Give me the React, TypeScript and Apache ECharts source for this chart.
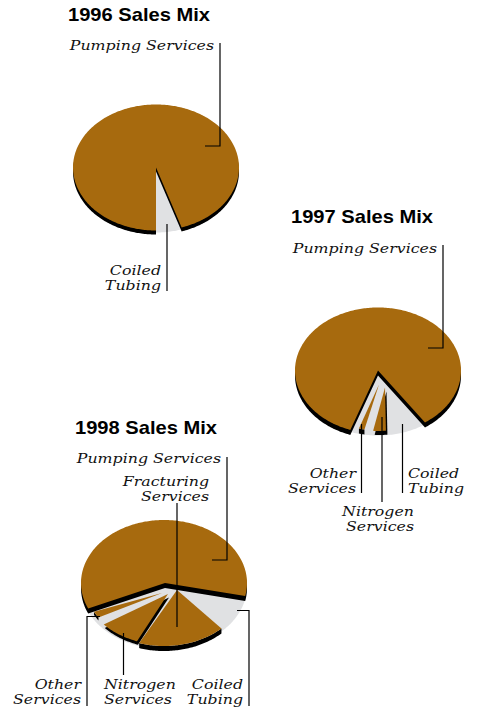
import React, { useEffect, useRef } from "react";
import * as echarts from "echarts";

const BROWN = "#a76a0e";
const GREY = "#e0e1e3";
const BLACK = "#000000";

const names1996 = ["Pumping Services", "Coiled Tubing"];
const sales1996 = [95, 5];
const names1997 = ["Pumping Services", "Coiled Tubing", "Nitrogen Services", "Other Services"];
const sales1997 = [85, 8, 3.5, 3.5];
const names1998 = ["Pumping Services", "Coiled Tubing", "Fracturing Services", "Nitrogen Services", "Other Services"];
const sales1998 = [60, 9.5, 17, 9, 4.5];

type SliceStyle = {
  kind: "main" | "notch" | "wedge";
  apex?: number[];
  inset?: number[];
  ratio?: number;
  shadow?: number[];
  rimOnly?: boolean;
};
type Pie = {
  title: string;
  titlePos: number[];
  names: string[];
  values: number[];
  center: number[];
  startAngle: number;
  slices: SliceStyle[];
  notchApex?: number[];
  notchDy: number;
};

const RX = 83;
const RY = 63;

const pies: Pie[] = [
  {
    title: "1996 Sales Mix",
    titlePos: [68, 21],
    names: names1996,
    values: sales1996,
    center: [156, 167.5],
    startAngle: 180,
    notchDy: 2,
    slices: [
      { kind: "main", shadow: [0, 4] },
      { kind: "notch" },
    ],
  },
  {
    title: "1997 Sales Mix",
    titlePos: [291, 223],
    names: names1997,
    values: sales1997,
    center: [378, 370.5],
    startAngle: 199.5,
    notchDy: 2,
    slices: [
      { kind: "main", shadow: [0, 5] },
      { kind: "notch" },
      { kind: "wedge", apex: [7, 17], inset: [0, 3.4], ratio: 0.96, shadow: [1.5, 4] },
      { kind: "wedge", apex: [1, 14], inset: [3, 5.5], ratio: 0.95, shadow: [0, 5], rimOnly: true },
    ],
  },
  {
    title: "1998 Sales Mix",
    titlePos: [75, 434],
    names: names1998,
    values: sales1998,
    center: [164, 583],
    startAngle: 246,
    notchDy: 3,
    notchApex: [2, 3],
    slices: [
      { kind: "main", apex: [1, 0], shadow: [0, 5] },
      { kind: "notch" },
      { kind: "wedge", apex: [13, 7], inset: [0, 0], ratio: 1, shadow: [0, 5], rimOnly: true },
      { kind: "wedge", apex: [4, 11], inset: [2, 2], ratio: 0.98, shadow: [1, 3.5] },
      { kind: "wedge", apex: [-2, 10], inset: [5.5, 4.5], ratio: 0.96, shadow: [0, 3], rimOnly: true },
    ],
  },
];

function rim(c: number[], a0: number, a1: number, ratio = 1, dy = 0) {
  const pts: number[][] = [];
  const n = Math.max(2, Math.ceil(Math.abs(a1 - a0)));
  for (let i = 0; i <= n; i++) {
    const t = ((a0 + ((a1 - a0) * i) / n) * Math.PI) / 180;
    pts.push([c[0] + RX * ratio * Math.sin(t), c[1] - RY * ratio * Math.cos(t) + dy]);
  }
  return pts;
}

const shift = (pts: number[][], dx: number, dy: number) => pts.map((p) => [p[0] + dx, p[1] + dy]);

function makeSeries(pie: Pie) {
  const total = pie.values.reduce((a, b) => a + b, 0);
  const starts: number[] = [];
  let acc = pie.startAngle;
  pie.values.forEach((v) => {
    starts.push(acc);
    acc += (v / total) * 360;
  });
  const endAll = pie.startAngle + 360;
  return {
    type: "custom",
    coordinateSystem: "none",
    name: pie.title,
    silent: true,
    data: pie.values.map((v, i) => ({ name: pie.names[i], value: v })),
    renderItem: (params: any) => {
      const i = params.dataIndex;
      const st = pie.slices[i];
      const a0 = starts[i];
      const a1 = a0 + (pie.values[i] / total) * 360;
      const c = pie.center;
      const children: any[] = [];
      if (st.kind === "notch") {
        const ap = pie.notchApex || [0, 0];
        const pts = [[c[0] + ap[0], c[1] + ap[1]], ...rim(c, a0 - 1, endAll + 1, 1, pie.notchDy)];
        children.push({ type: "polygon", z2: 1, shape: { points: pts }, style: { fill: GREY } });
      } else {
        const ins = st.inset || [0, 0];
        const ratio = st.ratio ?? 1;
        const arc = rim(c, a0 + ins[0], a1 - ins[1], ratio);
        const ap = st.apex || [0, 0];
        const face = [[c[0] + ap[0], c[1] + ap[1]], ...arc];
        const sh = st.shadow || [0, 4];
        const shadowPts = st.rimOnly
          ? [...arc, ...shift(arc, sh[0], sh[1]).reverse()]
          : shift(face, sh[0], sh[1]);
        children.push({ type: "polygon", z2: st.kind === "main" ? 4 : 2, shape: { points: shadowPts }, style: { fill: BLACK } });
        children.push({ type: "polygon", z2: st.kind === "main" ? 5 : 3, shape: { points: face }, style: { fill: BROWN } });
      }
      return { type: "group", children };
    },
  };
}

const LABEL_FONT = "DejaVu Serif";
const FS = 13.5;
const LABEL_STRETCH = 1.17;
const TITLE_STRETCH = 1.15;
const BASE_FIX = 2;

const labels: [string, number, number, string][] = [
  ["Pumping Services", 214, 50, "right"],
  ["Coiled", 161, 275, "right"],
  ["Tubing", 161, 290, "right"],
  ["Pumping Services", 437, 253, "right"],
  ["Other", 356, 477.5, "right"],
  ["Services", 356, 492.5, "right"],
  ["Coiled", 408, 477.5, "left"],
  ["Tubing", 408, 492.5, "left"],
  ["Nitrogen", 414, 516, "right"],
  ["Services", 414, 530.5, "right"],
  ["Pumping Services", 221, 463, "right"],
  ["Fracturing", 209, 486, "right"],
  ["Services", 209, 501, "right"],
  ["Other", 81, 689, "right"],
  ["Services", 81, 704, "right"],
  ["Nitrogen", 104, 689, "left"],
  ["Services", 104, 704, "left"],
  ["Coiled", 243, 689, "right"],
  ["Tubing", 243, 704, "right"],
];

const leaders: number[][][] = [
  [[220, 43], [220, 146], [205, 146]],
  [[167, 224], [167, 291]],
  [[443, 245], [443, 348], [428, 348]],
  [[361.5, 424], [361.5, 493]],
  [[382, 417], [382, 502]],
  [[402.5, 424], [402.5, 493]],
  [[227, 457], [227, 560], [212, 560]],
  [[177, 503], [177, 627]],
  [[237, 610.5], [249, 610.5], [249, 706]],
  [[123.5, 633], [123.5, 675]],
  [[100, 616.5], [87, 616.5], [87, 706]],
];

export default function App() {
  const ref = useRef<HTMLDivElement>(null);
  useEffect(() => {
    document.body.style.margin = "0";
    const chart = echarts.init(ref.current!, null, { renderer: "svg" });
    chart.setOption({
      animation: false,
      backgroundColor: "#ffffff",
      series: pies.map(makeSeries),
      graphic: [
        ...pies.map((p) => ({
          type: "text",
          z: 20,
          x: p.titlePos[0],
          y: p.titlePos[1] + 3,
          scaleX: TITLE_STRETCH,
          style: {
            text: p.title,
            textAlign: "left",
            verticalAlign: "bottom",
            fontFamily: "Liberation Sans",
            fontWeight: "bold",
            fontSize: 17.5,
            fill: "#000",
          },
        })),
        ...leaders.map((pts) => ({
          type: "polyline",
          z: 20,
          shape: { points: pts },
          style: { fill: "none", stroke: "#000", lineWidth: 1.2 },
        })),
        ...labels.map(([text, x, y, align]) => ({
          type: "text",
          z: 20,
          x,
          y: y + BASE_FIX,
          scaleX: LABEL_STRETCH,
          style: {
            text,
            textAlign: align,
            verticalAlign: "bottom",
            fontFamily: LABEL_FONT,
            fontStyle: "italic",
            fontSize: FS,
            fill: "#111",
          },
        })),
      ],
    });
    return () => chart.dispose();
  }, []);
  return <div ref={ref} style={{ width: 479, height: 709 }} />;
}
